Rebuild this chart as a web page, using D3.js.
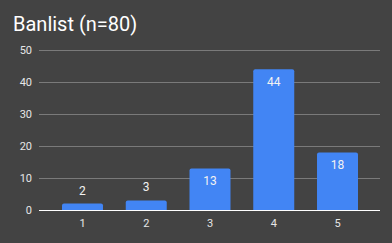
<!DOCTYPE html>
<html>
<head>
    <script src="https://cdnjs.cloudflare.com/ajax/libs/d3/7.8.5/d3.min.js"></script>
    <style>
        body { margin: 0; background: #434343; }
        text { font-family: Roboto, 'Liberation Sans', sans-serif; }
    </style>
</head>
<body>
    <div id="root"></div>
    <script>
        const categories = ['1', '2', '3', '4', '5']
        const counts = [2, 3, 13, 44, 18]
        const yTicks = [0, 10, 20, 30, 40, 50]

        const w = 392
        const h = 243
        const plotLeft = 39, plotRight = 380, plotTop = 50, plotBottom = 210

        const svg = d3.select('#root').append('svg')
            .attr('width', w)
            .attr('height', h)
            .style('display', 'block')

        svg.append('rect').attr('width', w).attr('height', h).attr('fill', '#434343')

        svg.append('text')
            .attr('x', 13)
            .attr('y', 31)
            .attr('fill', '#ffffff')
            .style('font-size', '20px')
            .text('Banlist (n=80)')

        const x = d3.scaleBand()
            .domain(categories)
            .range([62, 358])
            .paddingInner(0.357)
            .paddingOuter(0)

        const y = d3.scaleLinear()
            .domain([0, 50])
            .range([plotBottom, plotTop])

        // gridlines
        svg.append('g')
            .selectAll('line')
            .data(yTicks.filter(d => d > 0))
            .enter()
            .append('line')
            .attr('x1', plotLeft)
            .attr('x2', plotRight)
            .attr('y1', d => Math.round(y(d)) + 0.5)
            .attr('y2', d => Math.round(y(d)) + 0.5)
            .attr('stroke', '#7a7a7a')
            .attr('stroke-width', 1)

        // y labels
        svg.append('g')
            .selectAll('text')
            .data(yTicks)
            .enter()
            .append('text')
            .attr('x', 32)
            .attr('y', d => y(d) + 4)
            .attr('text-anchor', 'end')
            .attr('fill', '#e6e6e6')
            .style('font-size', '11px')
            .text(d => d)

        // bars with rounded top corners
        const r = 2
        svg.append('g')
            .selectAll('path')
            .data(counts)
            .enter()
            .append('path')
            .attr('fill', '#4285f4')
            .attr('d', (d, i) => {
                const x0 = x(categories[i]), x1 = x0 + x.bandwidth()
                const yt = y(d), yb = y(0)
                return `M${x0},${yb}V${yt + r}Q${x0},${yt} ${x0 + r},${yt}H${x1 - r}Q${x1},${yt} ${x1},${yt + r}V${yb}Z`
            })

        // baseline
        svg.append('line')
            .attr('x1', plotLeft)
            .attr('x2', plotRight)
            .attr('y1', y(0) + 0.5)
            .attr('y2', y(0) + 0.5)
            .attr('stroke', '#ffffff')
            .attr('stroke-width', 1.2)

        // value labels
        svg.append('g')
            .selectAll('text')
            .data(counts)
            .enter()
            .append('text')
            .attr('x', (d, i) => x(categories[i]) + x.bandwidth() / 2)
            .attr('y', d => d < 10 ? y(d) - 13 + 4 : y(d) + 13 + 4)
            .attr('text-anchor', 'middle')
            .attr('fill', '#f2f2f2')
            .style('font-size', '12px')
            .text(d => d)

        // x labels
        svg.append('g')
            .selectAll('text')
            .data(categories)
            .enter()
            .append('text')
            .attr('x', d => x(d) + x.bandwidth() / 2)
            .attr('y', 227)
            .attr('text-anchor', 'middle')
            .attr('fill', '#e6e6e6')
            .style('font-size', '11px')
            .text(d => d)
    </script>
</body>
</html>
